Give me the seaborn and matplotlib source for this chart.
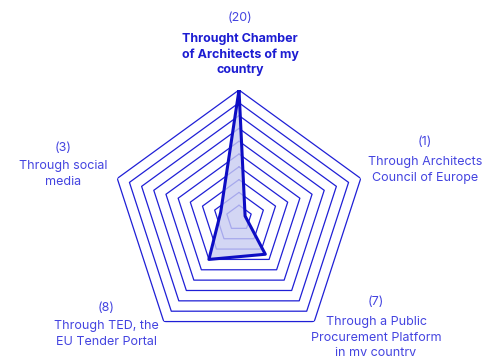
import numpy as np
import pandas as pd
import matplotlib
matplotlib.use("Agg")
import matplotlib.pyplot as plt
import seaborn as sns

categories = [
    "Throught Chamber\nof Architects of my\ncountry",
    "Through Architects\nCouncil of Europe",
    "Through a Public\nProcurement Platform\nin my country",
    "Through TED, the\nEU Tender Portal",
    "Through social\nmedia",
]
values = [20, 1, 7, 8, 3]
ring_levels = [2, 4, 6, 8, 10, 12, 14, 16, 18, 20]

sns.set_theme(style="white")
plt.rcParams["font.family"] = ["Inter", "DejaVu Sans"]

W, H = 494, 356
fig = plt.figure(figsize=(W / 100, H / 100), dpi=100)

cx, cy, R = 239, 218, 128
ax = fig.add_axes([(cx - R) / W, (H - cy - R) / H, 2 * R / W, 2 * R / H], projection="polar")
ax.set_theta_offset(np.pi / 2)
ax.set_theta_direction(-1)
ax.grid(False)
ax.spines["polar"].set_visible(False)
ax.patch.set_alpha(0)

n = len(categories)
angles = np.linspace(0, 2 * np.pi, n, endpoint=False)
closed_angles = np.concatenate([angles, [2 * np.pi]])

grid_color = "#1f1fd6"
for lvl in ring_levels:
    ax.plot(closed_angles, [lvl] * (n + 1), color=grid_color, lw=0.9, zorder=1)

df = pd.DataFrame({"theta": closed_angles, "r": values + values[:1]})
ax.fill(df["theta"], df["r"], color="#c9ccf2", alpha=0.8, zorder=2, lw=0)
sns.lineplot(data=df, x="theta", y="r", sort=False, ax=ax, color="#0d0dc4", lw=2.2, zorder=3)
ax.set_xlabel("")
ax.set_ylabel("")
ax.set_xticks([])
ax.set_yticks([])
ax.set_ylim(0, 20)

text_color = "#4444e0"
bold_color = "#1c1cd2"
fs = 9.0
label_pos = [
    (240, 18, 39),
    (425, 142, 162),
    (376, 302, 322),
    (106, 308, 326),
    (63, 148, 166),
]
line_gap = 15.7
for i, (name, val) in enumerate(zip(categories, values)):
    x, yv, yn = label_pos[i]
    fig.text(x / W, 1 - yv / H, f"({val})", ha="center", va="center", fontsize=fs, color=text_color)
    for j, line in enumerate(name.split("\n")):
        fig.text(x / W, 1 - (yn + j * line_gap) / H, line, ha="center", va="center", fontsize=fs,
                 color=bold_color if i == 0 else text_color,
                 fontweight="bold" if i == 0 else "normal")

fig.savefig("out.png", dpi=100)
